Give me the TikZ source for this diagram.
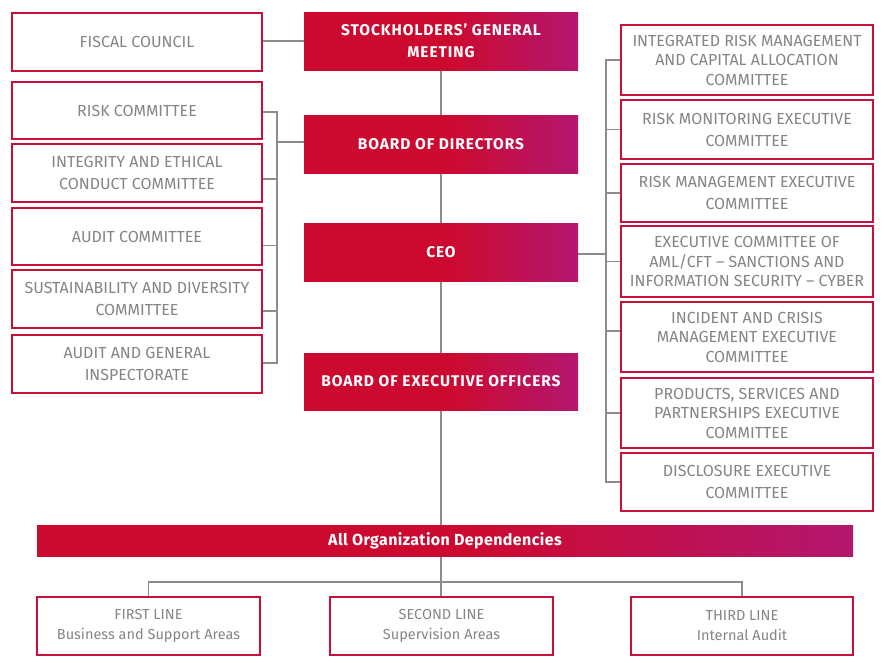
\documentclass[tikz,border=0pt]{standalone}
\usepackage{fontspec}
\setmainfont{Fira Sans}
\newfontfamily\wideb[LetterSpace=6]{Fira Sans}
\newfontfamily\barf[LetterSpace=2.5]{Fira Sans}
\usetikzlibrary{backgrounds}
\definecolor{itred}{HTML}{CC0A30}
\definecolor{itmag}{HTML}{B3176F}
\definecolor{bordred}{HTML}{C8103A}
\definecolor{txtgray}{HTML}{858585}
\definecolor{lgray}{HTML}{8C8C8C}
\pgfdeclarehorizontalshading{redmag}{100bp}{color(0bp)=(itred); color(25bp)=(itred); color(52bp)=(itred); color(75bp)=(itmag); color(100bp)=(itmag)}
\newcommand\graytext{\fontsize{16}{19.5}\selectfont}
\newcommand\bottext{\fontsize{14.5}{20}\selectfont}
\newcommand\boldtext{\wideb\bfseries\fontsize{15.5}{22}\selectfont}
\newcommand\bartext{\barf\bfseries\fontsize{16}{18}\selectfont}
\tikzset{
  wbox/.style={draw=bordred, line width=1.1pt, fill=white, inner sep=0pt, align=center, text=txtgray, font=\graytext},
  rbox/.style={shading=redmag, inner sep=0pt, align=center, text=white, font=\boldtext, minimum width=274pt, minimum height=58pt},
  lbox/.style={wbox, minimum width=250pt, minimum height=58pt},
  rtbox/.style={wbox, minimum width=252pt},
  btbox/.style={wbox, minimum width=223pt, minimum height=58pt, font=\bottext},
  conn/.style={draw=lgray, line width=1.2pt}
}
\begin{document}
\begin{tikzpicture}[x=1pt,y=-1pt]
\useasboundingbox (0,0) rectangle (884,662);
% central column
\node[rbox] (sgm) at (441,41) {STOCKHOLDERS’ GENERAL\\MEETING};
\node[rbox] (bod) at (441,144) {BOARD OF DIRECTORS};
\node[rbox] (ceo) at (441,252) {CEO};
\node[rbox, minimum height=57pt] (beo) at (441,381.5) {BOARD OF EXECUTIVE OFFICERS};
% left column
\node[lbox] (fc) at (137,42) {FISCAL COUNCIL};
\node[lbox, minimum height=57pt] (rc) at (137,110.5) {RISK COMMITTEE};
\node[lbox] (ie) at (137,173) {INTEGRITY AND ETHICAL\\[2.5pt]CONDUCT COMMITTEE};
\node[lbox, minimum height=57pt] (ac) at (137,236.5) {AUDIT COMMITTEE};
\node[lbox] (sd) at (137,299) {SUSTAINABILITY AND DIVERSITY\\[2.5pt]COMMITTEE};
\node[lbox] (ag) at (137,364) {AUDIT AND GENERAL\\[2.5pt]INSPECTORATE};
% right column
\node[rtbox, minimum height=70pt] (ir) at (747,60) {INTEGRATED RISK MANAGEMENT\\AND CAPITAL ALLOCATION\\COMMITTEE};
\node[rtbox, minimum height=59pt] (rm) at (747,129.5) {RISK MONITORING EXECUTIVE\\[2.5pt]COMMITTEE};
\node[rtbox, minimum height=58pt] (rg) at (747,193) {RISK MANAGEMENT EXECUTIVE\\[2.5pt]COMMITTEE};
\node[rtbox, minimum height=71pt] (aml) at (747,261.5) {EXECUTIVE COMMITTEE OF\\AML/CFT -- SANCTIONS AND\\INFORMATION SECURITY -- CYBER};
\node[rtbox, minimum height=70pt] (ic) at (747,337) {INCIDENT AND CRISIS\\MANAGEMENT EXECUTIVE\\COMMITTEE};
\node[rtbox, minimum height=70pt] (ps) at (747,413) {PRODUCTS, SERVICES AND\\PARTNERSHIPS EXECUTIVE\\COMMITTEE};
\node[rtbox, minimum height=58pt] (dc) at (747,482) {DISCLOSURE EXECUTIVE\\[2.5pt]COMMITTEE};
% bar and bottom
\node[shading=redmag, inner sep=0pt, minimum width=816pt, minimum height=31pt, text=white, font=\bartext] (bar) at (445,540.5) {All Organization Dependencies};
\node[btbox] (fl) at (148.5,626) {FIRST LINE\\Business and Support Areas};
\node[btbox] (sl) at (441.5,626) {SECOND LINE\\Supervision Areas};
\node[btbox, minimum width=222pt] (tl) at (742,626) {THIRD LINE\\Internal Audit};
% connector coordinates
\coordinate (lx) at (277,0);
\coordinate (rx) at (606,0);
\coordinate (bj) at (441,582);
\coordinate (rcT) at ([yshift=-1.5pt]rc.east);
\coordinate (ieT) at ([yshift=-6pt]ie.east);
\coordinate (acT) at ([yshift=-9pt]ac.east);
\coordinate (sdT) at ([yshift=-12pt]sd.east);
\coordinate (agT) at ([yshift=1pt]ag.east);
\coordinate (bodT) at ([yshift=2pt]bod.west);
\coordinate (icT) at ([yshift=6pt]ic.west);
\coordinate (ceoT) at ([yshift=-2pt]ceo.east);
\begin{scope}[on background layer]
\fill[white] (0,0) rectangle (884,662);
\draw[conn] (sgm.west) -- (sgm.west -| fc.east);
\draw[conn] (sgm.south) -- (bod.north);
\draw[conn] (bod.south) -- (ceo.north);
\draw[conn] (ceo.south) -- (beo.north);
\draw[conn] (beo.south) -- (beo.south |- bar.north);
\draw[conn] (beo.south |- bar.south) -- (beo.south |- sl.north);
\draw[conn] (fl.north) |- (bj) -| (tl.north);
% left bracket
\draw[conn] (rcT) -| (lx |- agT) -- (agT);
\draw[conn] (ieT) -- (lx |- ieT);
\draw[conn] (acT) -- (lx |- acT);
\draw[conn] (sdT) -- (lx |- sdT);
\draw[conn] (bodT) -- (lx |- bodT);
% right bracket
\draw[conn] (ir.west) -| (rx |- dc.west) -- (dc.west);
\draw[conn] (rm.west) -- (rx |- rm.west);
\draw[conn] (rg.west) -- (rx |- rg.west);
\draw[conn] (aml.west) -- (rx |- aml.west);
\draw[conn] (icT) -- (rx |- icT);
\draw[conn] (ps.west) -- (rx |- ps.west);
\draw[conn] (ceoT) -- (rx |- ceoT);
\end{scope}
\end{tikzpicture}
\end{document}
